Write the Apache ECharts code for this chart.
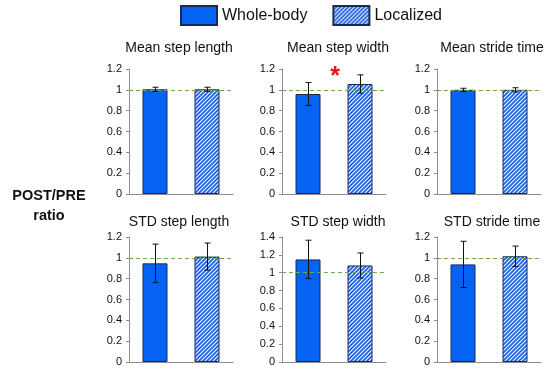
<!DOCTYPE html>
<html>
<head>
<meta charset="utf-8">
<script src="https://cdn.jsdelivr.net/npm/echarts@6/dist/echarts.min.js"></script>
<style>html,body{margin:0;padding:0;background:#fff;}#c{width:550px;height:372px;}</style>
</head>
<body>
<div id="c"></div>
<script>
// ---- data ----
var panelTitles = ['Mean step length', 'Mean step width', 'Mean stride time',
                   'STD step length', 'STD step width', 'STD stride time'];
var groups = ['Whole-body', 'Localized'];
var wholeBodyMean = [1.005, 0.96, 1.0, 0.947, 1.149, 0.937];
var wholeBodyErr  = [0.02, 0.11, 0.015, 0.185, 0.215, 0.222];
var localizedMean = [1.005, 1.056, 1.0, 1.012, 1.081, 1.015];
var localizedErr  = [0.02, 0.088, 0.02, 0.13, 0.14, 0.098];
var axisMax = [1.2, 1.2, 1.2, 1.2, 1.4, 1.2];
var yInterval = 0.2;
var refValue = 1;

// ---- layout ----
var gridLefts = [129, 282, 437];
var gridTops = [69, 237];
var gridW = 104, gridH = 125;
var titleX = [179, 338, 492];
var titleY = [48, 222];

var blue = '#0563f3';
var border = '#1b2a55';

var pc = document.createElement('canvas');
pc.width = 4; pc.height = 4;
var g = pc.getContext('2d');
g.fillStyle = '#ffffff'; g.fillRect(0, 0, 4, 4);
g.strokeStyle = '#1f5fe0'; g.lineWidth = 1.8;
g.beginPath();
g.moveTo(-1, 5); g.lineTo(5, -1);
g.moveTo(-1, 1); g.lineTo(1, -1);
g.moveTo(3, 5); g.lineTo(5, 3);
g.stroke();
var hatch = { image: pc, repeat: 'repeat' };

var grids = [], xAxes = [], yAxes = [], series = [];
for (var i = 0; i < 6; i++) {
  var r = Math.floor(i / 3), c = i % 3;
  grids.push({ left: gridLefts[c], top: gridTops[r], width: gridW, height: gridH });
  xAxes.push({
    type: 'category', gridIndex: i, data: groups,
    axisLine: { lineStyle: { color: '#8c8c8c' } },
    axisTick: { show: false }, axisLabel: { show: false }
  });
  yAxes.push({
    type: 'value', gridIndex: i, min: 0, max: axisMax[i], interval: yInterval,
    axisLine: { show: true, lineStyle: { color: '#8c8c8c' } },
    axisTick: { show: true, length: 3, lineStyle: { color: '#8c8c8c' } },
    splitLine: { show: false },
    axisLabel: { color: '#111', fontSize: 11, fontFamily: 'Liberation Sans', margin: 7,
      formatter: function (v) { return String(Math.round(v * 10) / 10); } }
  });
  series.push({
    name: groups[0], type: 'bar', xAxisIndex: i, yAxisIndex: i,
    data: [wholeBodyMean[i], '-'], barWidth: 25, barGap: '-100%',
    itemStyle: { color: blue, borderColor: border, borderWidth: 1 },
    markLine: {
      silent: true, symbol: 'none', label: { show: false },
      lineStyle: { color: '#6aae4a', type: [4, 3], width: 1 },
      data: [{ yAxis: refValue }], animation: false
    },
    animation: false
  });
  series.push({
    name: groups[1], type: 'bar', xAxisIndex: i, yAxisIndex: i,
    data: ['-', localizedMean[i]], barWidth: 25, barGap: '-100%',
    itemStyle: { color: hatch, borderColor: border, borderWidth: 1 },
    animation: false
  });
  series.push({
    type: 'custom', xAxisIndex: i, yAxisIndex: i, z: 10, silent: true,
    data: [
      [0, wholeBodyMean[i] - wholeBodyErr[i], wholeBodyMean[i] + wholeBodyErr[i]],
      [1, localizedMean[i] - localizedErr[i], localizedMean[i] + localizedErr[i]]
    ],
    renderItem: function (params, api) {
      var lo = api.coord([api.value(0), api.value(1)]);
      var hi = api.coord([api.value(0), api.value(2)]);
      var x = Math.round(lo[0]) + 0.5, w = 3;
      var st = { stroke: '#111', lineWidth: 1 };
      return { type: 'group', children: [
        { type: 'line', shape: { x1: x, y1: lo[1], x2: x, y2: hi[1] }, style: st },
        { type: 'line', shape: { x1: x - w, y1: lo[1], x2: x + w, y2: lo[1] }, style: st },
        { type: 'line', shape: { x1: x - w, y1: hi[1], x2: x + w, y2: hi[1] }, style: st }
      ]};
    },
    animation: false
  });
}

var graphics = [];
for (var j = 0; j < 6; j++) {
  graphics.push({ type: 'text', x: titleX[j % 3], y: titleY[Math.floor(j / 3)],
    style: { text: panelTitles[j], fill: '#111', font: '14px "Liberation Sans"',
      textAlign: 'center', textVerticalAlign: 'middle' } });
}
graphics.push({ type: 'text', x: 49, y: 196,
  style: { text: 'POST/PRE', fill: '#111', font: 'bold 14.5px "Liberation Sans"', textAlign: 'center', textVerticalAlign: 'middle' } });
graphics.push({ type: 'text', x: 49, y: 216,
  style: { text: 'ratio', fill: '#111', font: 'bold 14.5px "Liberation Sans"', textAlign: 'center', textVerticalAlign: 'middle' } });
graphics.push({ type: 'text', x: 335, y: 77,
  style: { text: '*', fill: '#ee1111', font: 'bold 25px "Liberation Sans"', textAlign: 'center', textVerticalAlign: 'middle' } });

var chart = echarts.init(document.getElementById('c'), null, { renderer: 'canvas' });
chart.setOption({
  animation: false,
  backgroundColor: '#fff',
  legend: {
    data: groups, left: 180, top: 5, padding: 0, itemWidth: 36, itemHeight: 19, itemGap: 25,
    icon: 'rect',
    textStyle: { fontSize: 16, color: '#111', fontFamily: 'Liberation Sans' }
  },
  grid: grids, xAxis: xAxes, yAxis: yAxes, series: series,
  graphic: graphics
});
</script>
</body>
</html>
